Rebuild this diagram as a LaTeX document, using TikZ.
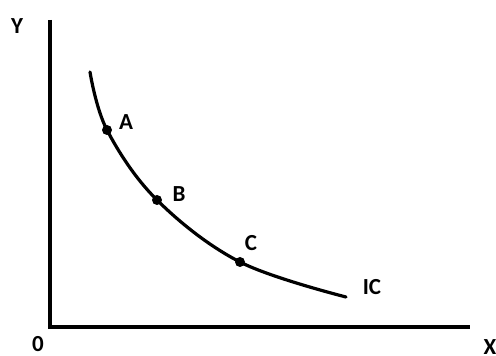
\documentclass[tikz,border=0pt]{standalone}
\usepackage{fontspec}
\setmainfont{Carlito}
\usepackage{tikz}
\usetikzlibrary{positioning}
\tikzset{
  axis/.style={line width=3.4pt},
  curve/.style={line width=3.2pt, line cap=round},
  pt/.style={circle, fill=black, inner sep=0pt, minimum size=10pt},
  lab/.style={font=\fontsize{23}{27}\selectfont\bfseries, inner sep=0pt}
}
\begin{document}
\begin{tikzpicture}[x=1pt, y=1pt]
  \useasboundingbox (0,0) rectangle (496,356);

  % axes
  \coordinate (o) at (50,29);
  \coordinate (ytop) at (50,336);
  \coordinate (xend) at (470,29);
  \draw[axis] (ytop) -- (o) -- (xend);
  \node[lab] (ylab) at (17,330) {Y};
  \node[lab] (olab) at (38,12) {0};
  \node[lab] (xlab) at (490,9) {X};

  % indifference curve
  \coordinate (icstart) at (90,284);
  \coordinate (a) at (107,226);
  \coordinate (b) at (157,156);
  \coordinate (c) at (240,94);
  \coordinate (icend) at (346,59);
  \draw[curve] plot[smooth, tension=0.6] coordinates {(icstart) (a) (b) (c) (icend)};

  \node[pt] (pa) at (a) {};
  \node[pt] (pb) at (b) {};
  \node[pt] (pc) at (c) {};
  \node[lab] at (126,234) {A};
  \node[lab] at (179,162) {B};
  \node[lab] at (251,113) {C};
  \node[lab] at (372,69) {IC};
\end{tikzpicture}
\end{document}
